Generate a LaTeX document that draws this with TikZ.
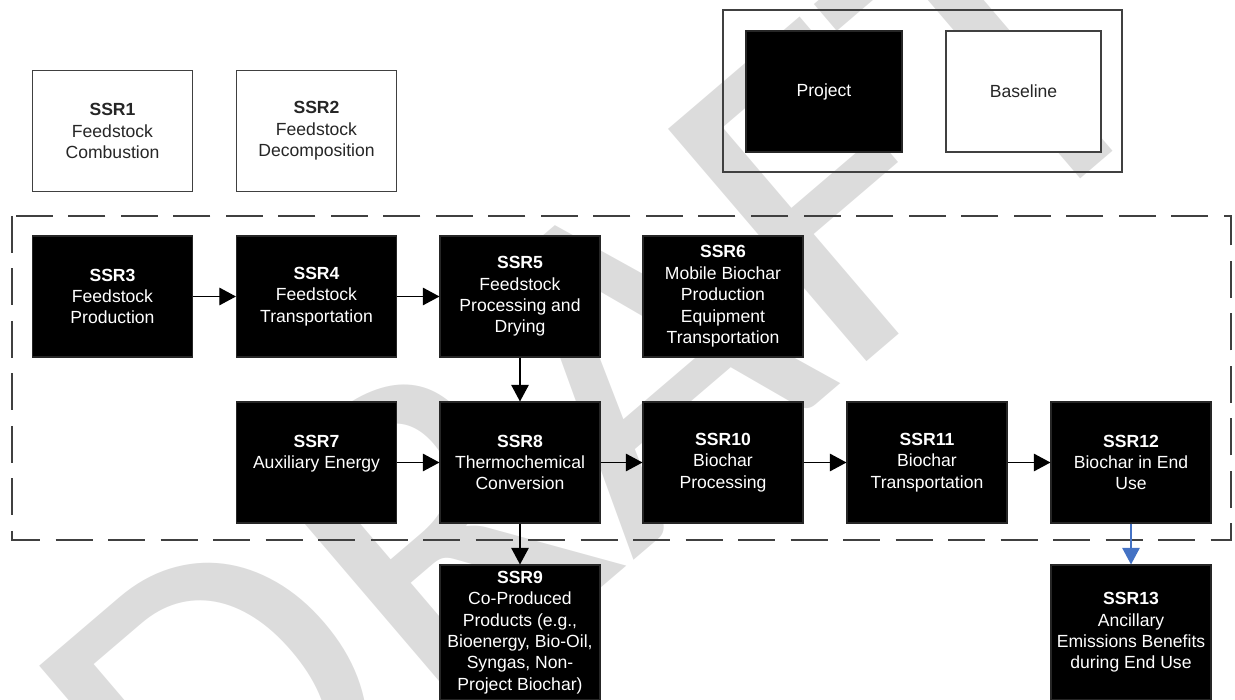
\documentclass[tikz,border=0pt]{standalone}
\usepackage{fontspec}
\setmainfont{Liberation Sans}
\newfontfamily\wmfont{Carlito}
\usetikzlibrary{arrows.meta}
\definecolor{wmGray}{HTML}{DCDCDC}
\definecolor{useBlue}{HTML}{4472C4}
\definecolor{edgeGray}{HTML}{404040}

\begin{document}
\begin{tikzpicture}[
  font=\fontsize{10}{12.2}\selectfont,
  ssr/.style={minimum width=3.2cm, minimum height=2.42cm, inner sep=0pt, align=center, line width=0.6pt},
  projBox/.style={ssr, fill=black, draw=black!85, text=white},
  baseBox/.style={ssr, fill=white, draw=edgeGray, text=black!85},
  flow/.style={-{Triangle[length=9.5pt,width=10pt]}, line width=0.8pt, draw=black},
  bound/.style={draw=edgeGray, line width=0.9pt, dash pattern=on 0.74cm off 0.31cm},
]
\useasboundingbox (0,0) rectangle (24.7,14);
\clip (0,0) rectangle (24.7,14);

% =========================== WATERMARK ===========================
\node[font=\wmfont\fontsize{271}{271}\selectfont, text=wmGray, inner sep=0pt,
      anchor=base west, rotate=40.5] (draft) at (4.26,-4.4) {DRAFT};

% =========================== LEGEND ===========================
\node[draw=edgeGray, line width=0.9pt, minimum width=7.98cm, minimum height=3.24cm] (legend)
  at (18.45,12.18) {};
\node[projBox, minimum width=3.12cm] (lproj) at (16.48,12.17) {Project};
\node[baseBox, minimum width=3.1cm]  (lbase) at (20.47,12.17) {Baseline};

% =========================== BASELINE SSRs ===========================
\node[baseBox] (ssr1) at (2.25,11.38) {\textbf{SSR1}\\Feedstock\\Combustion};
\node[baseBox] (ssr2) at (6.33,11.38) {\textbf{SSR2}\\Feedstock\\Decomposition};

% =========================== PROJECT BOUNDARY ===========================
\draw[bound] (0.24,9.68) rectangle (24.62,3.2);

% row 1
\node[projBox] (ssr3) at (2.25,8.07)  {\textbf{SSR3}\\Feedstock\\Production};
\node[projBox] (ssr4) at (6.33,8.07)  {\textbf{SSR4}\\Feedstock\\Transportation};
\node[projBox] (ssr5) at (10.4,8.07)  {\textbf{SSR5}\\Feedstock\\Processing and\\Drying};
\node[projBox] (ssr6) at (14.46,8.07) {\textbf{SSR6}\\Mobile Biochar\\Production\\Equipment\\Transportation};

% row 2
\node[projBox] (ssr7)  at (6.33,4.75)  {\textbf{SSR7}\\Auxiliary Energy\\\mbox{}};
\node[projBox] (ssr8)  at (10.4,4.75)  {\textbf{SSR8}\\Thermochemical\\Conversion};
\node[projBox] (ssr10) at (14.46,4.75) {\textbf{SSR10}\\Biochar\\Processing};
\node[projBox] (ssr11) at (18.54,4.75) {\textbf{SSR11}\\Biochar\\Transportation};
\node[projBox] (ssr12) at (22.62,4.75) {\textbf{SSR12}\\Biochar in End\\Use};

% outside the boundary
\node[projBox, minimum height=2.7cm] (ssr9)  at (10.4,1.35)
  {\textbf{SSR9}\\Co-Produced\\Products (e.g.,\\Bioenergy, Bio-Oil,\\Syngas, Non-\\Project Biochar)};
\node[projBox, minimum height=2.7cm] (ssr13) at (22.62,1.35)
  {\textbf{SSR13}\\Ancillary\\Emissions Benefits\\during End Use};

% =========================== FLOWS ===========================
\draw[flow] (ssr3.east) -- (ssr4.west);
\draw[flow] (ssr4.east) -- (ssr5.west);
\draw[flow] (ssr5.south) -- (ssr8.north);
\draw[flow] (ssr7.east) -- (ssr8.west);
\draw[flow] (ssr8.east) -- (ssr10.west);
\draw[flow] (ssr10.east) -- (ssr11.west);
\draw[flow] (ssr11.east) -- (ssr12.west);
\draw[flow] (ssr8.south) -- (ssr9.north);
\draw[flow, draw=useBlue, fill=useBlue] (ssr12.south) -- (ssr13.north);

\end{tikzpicture}
\end{document}
